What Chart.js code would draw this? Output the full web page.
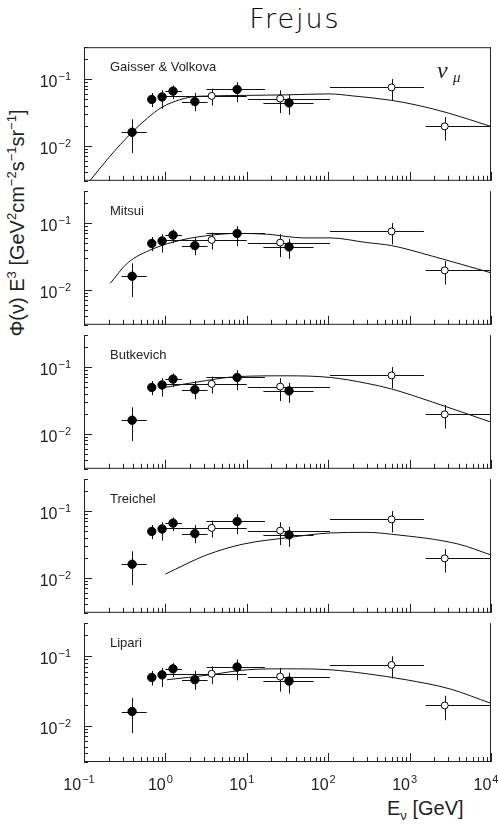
<!DOCTYPE html>
<html>
<head>
<meta charset="utf-8">
<script src="https://cdn.jsdelivr.net/npm/chart.js@4.4.0/dist/chart.umd.min.js"></script>
<style>
  body { margin: 0; background: #fff; width: 499px; height: 827px; position: relative; overflow: hidden;
         font-family: "Liberation Sans", Arial, sans-serif; color: #111; }
  canvas { position: absolute; left: 0; }
  #title { position: absolute; left: 295px; top: 18px; transform: translate(-50%, -50%);
           font-family: "DejaVu Sans", sans-serif; font-size: 27px; letter-spacing: 2px; font-weight: 200;
           color: #000; white-space: nowrap; }
  #ytitle { position: absolute; left: 17px; top: 223px; transform: translate(-50%, -50%) rotate(-90deg);
            font-size: 20px; white-space: nowrap; color: #222; }
  #ytitle .sup { font-size: 13px; position: relative; top: -8px; }
  #xtitle { position: absolute; left: 387px; top: 797px; font-size: 20px; white-space: nowrap; color: #222; }
  #xtitle .sub { font-size: 13px; position: relative; top: 5px; }
</style>
</head>
<body>
<div id="title">Frejus</div>
<div id="ytitle">&Phi;(&nu;) E<span class="sup">3</span> [GeV<span class="sup">2</span>cm<span class="sup">&minus;2</span>s<span class="sup">&minus;1</span>sr<span class="sup">&minus;1</span>]</div>
<div id="xtitle">E<span class="sub">&nu;</span> [GeV]</div>
<canvas id="p0" width="499" height="144" style="top:42px"></canvas>
<canvas id="p1" width="499" height="144" style="top:186px"></canvas>
<canvas id="p2" width="499" height="144" style="top:330px"></canvas>
<canvas id="p3" width="499" height="144" style="top:474px"></canvas>
<canvas id="p4" width="499" height="210" style="top:618px"></canvas>
<script>
// Frejus measurements (same in every panel)
const energy   = [0.39, 0.68, 0.91, 1.24, 2.3, 3.7, 7.6, 25.7, 33, 600, 2700];
const flux     = [0.016, 0.0495, 0.054, 0.066, 0.046, 0.056, 0.070, 0.051, 0.044, 0.075, 0.0196];
const eLow     = [0.29, 0.68, 0.91, 1.0, 1.6, 1.0, 3.2, 10.3, 16, 105, 1570];
const eHigh    = [0.59, 0.68, 0.91, 1.6, 3.3, 10, 16.7, 105, 66, 1500, 10000];
const fluxLow  = [0.0078, 0.038, 0.036, 0.05, 0.033, 0.04, 0.045, 0.031, 0.029, 0.048, 0.012];
const fluxHigh = [0.025, 0.062, 0.068, 0.08, 0.062, 0.072, 0.09, 0.068, 0.058, 0.1, 0.027];
const isOpen   = [false, false, false, false, false, true, false, true, false, true, true];

// model curves
const gvE = [0.118, 0.2, 0.39, 0.6, 0.91, 1.5, 2.1, 3.7, 10, 30, 100, 200, 600, 1200, 3000, 10000];
const gvFlux = [0.003, 0.0066, 0.016, 0.026, 0.038, 0.049, 0.054, 0.056, 0.057, 0.058, 0.06, 0.056, 0.048, 0.041, 0.031, 0.0195];
const mitsuiE = [0.21, 0.34, 0.7, 1.6, 3.7, 7.6, 18, 50, 105, 300, 600, 1900, 10000];
const mitsuiFlux = [0.0125, 0.025, 0.041, 0.056, 0.066, 0.07, 0.068, 0.06, 0.06, 0.051, 0.046, 0.032, 0.018];
const butkE = [0.93, 3.2, 7.6, 31, 105, 300, 600, 1900, 10000];
const butkFlux = [0.049, 0.063, 0.072, 0.074, 0.07, 0.057, 0.047, 0.03, 0.015];
const treichelE = [1.0, 3.2, 9, 32, 105, 300, 600, 4000, 10000];
const treichelFlux = [0.0114, 0.022, 0.032, 0.04, 0.047, 0.048, 0.045, 0.032, 0.022];
const lipariE = [1.05, 3.5, 10, 31, 105, 300, 900, 3100, 10000];
const lipariFlux = [0.046, 0.054, 0.064, 0.066, 0.064, 0.056, 0.046, 0.034, 0.021];

const modelNames = ['Gaisser & Volkova', 'Mitsui', 'Butkevich', 'Treichel', 'Lipari'];
const modelE = [gvE, mitsuiE, butkE, treichelE, lipariE];
const modelFlux = [gvFlux, mitsuiFlux, butkFlux, treichelFlux, lipariFlux];

// tick labels
const xTickValues = [0.1, 1, 10, 100, 1000, 10000];
const xTickExp = ['\u22121', '0', '1', '2', '3', '4'];
const yTickValues = [0.1, 0.01];
const yTickExp = ['\u22121', '\u22122'];

const FONT = '"Liberation Sans", Arial, sans-serif';

function powLabel(ctx, xPos, base, exp, size, align) {
  ctx.font = size + 'px ' + FONT;
  const wb = ctx.measureText('10').width;
  const es = Math.round(size * 0.68);
  ctx.font = es + 'px ' + FONT;
  const we = ctx.measureText(exp).width;
  const w = wb + we + 1;
  const x0 = align === 'right' ? xPos - w : xPos - w / 2;
  ctx.textAlign = 'left';
  ctx.textBaseline = 'alphabetic';
  ctx.font = size + 'px ' + FONT;
  ctx.fillText('10', x0, base);
  ctx.font = es + 'px ' + FONT;
  ctx.fillText(exp, x0 + wb + 1, base - size * 0.45);
}

const deco = {
  id: 'deco',
  beforeDatasetsDraw(chart) {
    const {ctx, scales: {x, y}, chartArea: a} = chart;
    ctx.save();
    ctx.beginPath();
    ctx.rect(a.left, a.top, a.right - a.left, a.bottom - a.top);
    ctx.clip();
    ctx.strokeStyle = '#111';
    ctx.lineWidth = 1;
    ctx.beginPath();
    energy.forEach((e, i) => {
      const px = Math.round(x.getPixelForValue(e)) + 0.5;
      const py = Math.round(y.getPixelForValue(flux[i])) + 0.5;
      ctx.moveTo(x.getPixelForValue(eLow[i]), py);
      ctx.lineTo(x.getPixelForValue(eHigh[i]), py);
      ctx.moveTo(px, y.getPixelForValue(fluxHigh[i]));
      ctx.lineTo(px, y.getPixelForValue(fluxLow[i]));
    });
    ctx.stroke();
    ctx.restore();
  },
  afterDraw(chart, args, opts) {
    const {ctx, scales: {x, y}, chartArea: a} = chart;
    ctx.save();
    ctx.strokeStyle = '#222';
    ctx.lineWidth = 1;
    ctx.beginPath();
    const L = a.left + 0.5, R = a.right - 0.5, B = a.bottom - 0.5;
    if (opts.top) { ctx.moveTo(a.left, a.top + 0.5); ctx.lineTo(a.right, a.top + 0.5); }
    ctx.moveTo(L, a.top); ctx.lineTo(L, a.bottom);
    ctx.moveTo(R, a.top); ctx.lineTo(R, a.bottom);
    ctx.moveTo(a.left, B); ctx.lineTo(a.right, B);
    for (let d = -3; d <= 0; d++) {
      for (let m = 1; m <= 9; m++) {
        const v = m * Math.pow(10, d);
        if (v < y.min * 0.999 || v > y.max * 1.001) continue;
        const py = Math.round(y.getPixelForValue(v)) + 0.5;
        ctx.moveTo(a.left, py); ctx.lineTo(a.left + (m === 1 ? 8 : 4), py);
      }
    }
    for (let d = -1; d <= 4; d++) {
      for (let m = 1; m <= 9; m++) {
        const v = m * Math.pow(10, d);
        if (v > x.max * 1.001) continue;
        const px = Math.round(x.getPixelForValue(v)) + 0.5;
        ctx.moveTo(px, a.bottom); ctx.lineTo(px, a.bottom - (m === 1 ? 9 : 5));
      }
    }
    ctx.stroke();

    ctx.fillStyle = '#222';
    yTickValues.forEach((v, i) => {
      powLabel(ctx, 71, y.getPixelForValue(v) + 8, yTickExp[i], 16, 'right');
    });
    ctx.font = '13px ' + FONT;
    ctx.textAlign = 'left';
    ctx.textBaseline = 'middle';
    ctx.fillText(opts.label, 110, a.top + 20);
    if (opts.nu) {
      ctx.font = 'italic 24px "Liberation Serif", serif';
      ctx.textBaseline = 'alphabetic';
      ctx.fillText('\u03bd', 437, a.top + 31);
      ctx.font = 'italic 15px "Liberation Serif", serif';
      ctx.fillText('\u03bc', 453, a.top + 35);
    }
    if (opts.bottom) {
      xTickValues.forEach((v, i) => {
        powLabel(ctx, x.getPixelForValue(v) - 5, a.bottom + 28, xTickExp[i], 16, 'center');
      });
    }
    ctx.restore();
  }
};

modelNames.forEach((name, k) => {
  const last = k === modelNames.length - 1;
  new Chart(document.getElementById('p' + k), {
    type: 'scatter',
    data: {
      datasets: [
        {
          data: energy.map((e, i) => ({x: e, y: flux[i]})),
          showLine: false,
          pointRadius: energy.map((e, i) => isOpen[i] ? 3.5 : 4.2),
          pointBackgroundColor: energy.map((e, i) => isOpen[i] ? '#fff' : '#000'),
          pointBorderColor: '#000',
          pointBorderWidth: 1
        },
        {
          data: modelE[k].map((e, i) => ({x: e, y: modelFlux[k][i]})),
          showLine: true,
          pointRadius: 0,
          borderColor: '#111',
          borderWidth: 1,
          cubicInterpolationMode: 'monotone'
        }
      ]
    },
    options: {
      responsive: false,
      animation: false,
      layout: {padding: {left: 84, right: 8, top: 0, bottom: last ? 66 : 0}},
      plugins: {
        legend: {display: false},
        tooltip: {enabled: false},
        deco: {label: name, top: k === 0, nu: k === 0, bottom: last}
      },
      scales: {
        x: {type: 'logarithmic', min: 0.1, max: 10000, display: false},
        y: {type: 'logarithmic', min: 0.003, max: 0.3, display: false}
      }
    },
    plugins: [deco]
  });
});
</script>
</body>
</html>
